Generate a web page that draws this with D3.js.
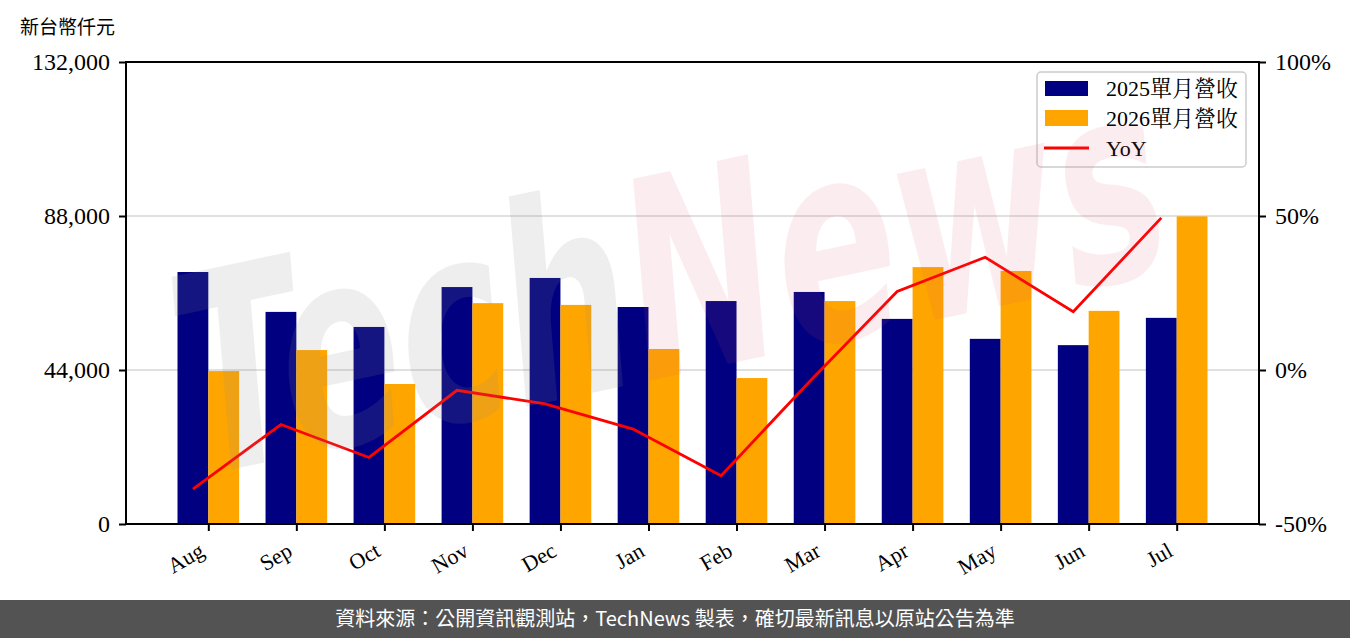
<!DOCTYPE html>
<html lang="zh-TW"><head><meta charset="utf-8">
<script src="https://cdn.jsdelivr.net/npm/d3@7"></script>
<style>body{margin:0;background:#fff;} svg{display:block}</style>
</head><body><svg id="c" width="1350" height="638" lang="zh-TW"></svg>
<script>
const months = ["Aug","Sep","Oct","Nov","Dec","Jan","Feb","Mar","Apr","May","Jun","Jul"];
const rev2025 = [72000,60600,56300,67700,70300,62000,63700,66300,58600,52900,51100,58900];
const rev2026 = [43700,49700,40000,63100,62600,50000,41700,63700,73400,72300,60900,87900];
const yoy = [-38.7,-17.7,-28.4,-6.6,-11.0,-19.2,-34.3,-3.9,25.5,36.6,18.9,49.4];
const leftTicks = [0,44000,88000,132000];
const rightTicks = [-50,0,50,100];
const seriesNames = ["2025單月營收","2026單月營收","YoY"];
const unitLabel = "新台幣仟元";
const sourceText = "資料來源：公開資訊觀測站，TechNews 製表，確切最新訊息以原站公告為準";

const SERIF = '"Liberation Serif","Noto Serif CJK TC","Noto Sans CJK TC",serif';
const svg = d3.select("#c");
const L=126,R=1259,T=62,B=524;
const x = d3.scaleLinear().domain([-0.935,11.935]).range([L,R]);
const yL = d3.scaleLinear().domain([0,132000]).range([B,T]);
const yR = d3.scaleLinear().domain([-50,100]).range([B,T]);
const bw = x(0.35)-x(0);

// grid
svg.append("g").selectAll("line").data(leftTicks.slice(1,3)).join("line")
  .attr("x1",L).attr("x2",R).attr("y1",d=>yL(d)).attr("y2",d=>yL(d))
  .attr("stroke","#d6d6d6").attr("stroke-width",1.6);

// bars
svg.append("g").selectAll("rect").data(rev2025).join("rect")
  .attr("x",(d,i)=>x(i)-bw).attr("y",d=>yL(d)).attr("width",bw).attr("height",d=>B-yL(d)).attr("fill","#000080");
svg.append("g").selectAll("rect").data(rev2026).join("rect")
  .attr("x",(d,i)=>x(i)).attr("y",d=>yL(d)).attr("width",bw).attr("height",d=>B-yL(d)).attr("fill","#FFA500");

// line
svg.append("path").datum(yoy)
  .attr("d",d3.line().x((d,i)=>x(i-0.175)).y(d=>yR(d)))
  .attr("fill","none").attr("stroke","#FF0000").attr("stroke-width",2.8).attr("stroke-linejoin","miter");

// axes
function styleAxis(g){
  g.select(".domain").remove();
  g.selectAll(".tick line").attr("stroke","#000").attr("stroke-width",2);
  g.selectAll(".tick text").attr("fill","#000").style("font-family",SERIF).style("font-size","24px");
}
svg.append("g").attr("transform",`translate(${L},0)`)
  .call(d3.axisLeft(yL).tickValues(leftTicks).tickSize(7).tickPadding(9).tickFormat(d3.format(",")))
  .call(styleAxis);
svg.append("g").attr("transform",`translate(${R},0)`)
  .call(d3.axisRight(yR).tickValues(rightTicks).tickSize(7).tickPadding(9).tickFormat(d=>d+"%"))
  .call(styleAxis);
const xa = svg.append("g").attr("transform",`translate(0,${B})`)
  .call(d3.axisBottom(x).tickValues(d3.range(months.length)).tickSize(7).tickFormat(i=>months[i]))
  .call(styleAxis);
xa.selectAll(".tick text").attr("text-anchor","end").attr("dy",null).attr("y",null)
  .attr("transform","translate(-3,31) rotate(-30)").style("font-size","22px");

// frame
svg.append("rect").attr("x",L).attr("y",T).attr("width",R-L).attr("height",B-T)
  .attr("fill","none").attr("stroke","#000").attr("stroke-width",2);

// legend
const lg = svg.append("g");
lg.append("rect").attr("x",1037).attr("y",72).attr("width",209).attr("height",95).attr("rx",4)
  .attr("fill","#fff").attr("fill-opacity",0.8).attr("stroke","#cccccc").attr("stroke-width",1.5);
lg.append("rect").attr("x",1045).attr("y",81).attr("width",43).attr("height",15).attr("fill","#000080");
lg.append("rect").attr("x",1045).attr("y",110).attr("width",43).attr("height",16).attr("fill","#FFA500");
lg.append("line").attr("x1",1044).attr("x2",1089).attr("y1",148).attr("y2",148).attr("stroke","#FF0000").attr("stroke-width",3);
lg.selectAll("text.l").data(seriesNames).join("text").attr("class","l")
  .attr("x",1106).attr("y",(d,i)=>96+i*30).text(d=>d)
  .style("font-family",SERIF).style("font-size","22px").attr("fill","#000");

// unit label
svg.append("text").attr("x",20).attr("y",34).text(unitLabel)
  .style("font-family",'"Noto Sans CJK TC",sans-serif').style("font-size","19px").attr("fill","#000");

// banner
svg.append("rect").attr("x",0).attr("y",600).attr("width",1350).attr("height",38).attr("fill","#535353");
svg.append("text").attr("x",675).attr("y",626).attr("text-anchor","middle").attr("lang","zh-TW").text(sourceText)
  .style("font-family",'"Noto Sans CJK TC",sans-serif').style("font-size","20px").attr("fill","#fff");

// watermark (semi-transparent, drawn on top)
const wm = svg.append("g").attr("pointer-events","none")
  .attr("transform","translate(690,372) rotate(-12) scale(0.62,0.95)");
const wt = wm.append("text").attr("text-anchor","middle")
  .style("font-family",'"DejaVu Sans",sans-serif').style("font-weight","bold").style("font-style","italic")
  .style("font-size","290px");
wt.append("tspan").text("Tech").attr("fill","rgb(140,140,140)").attr("fill-opacity",0.15);
wt.append("tspan").text("News").attr("fill","rgb(215,80,95)").attr("fill-opacity",0.1);
</script></body></html>
